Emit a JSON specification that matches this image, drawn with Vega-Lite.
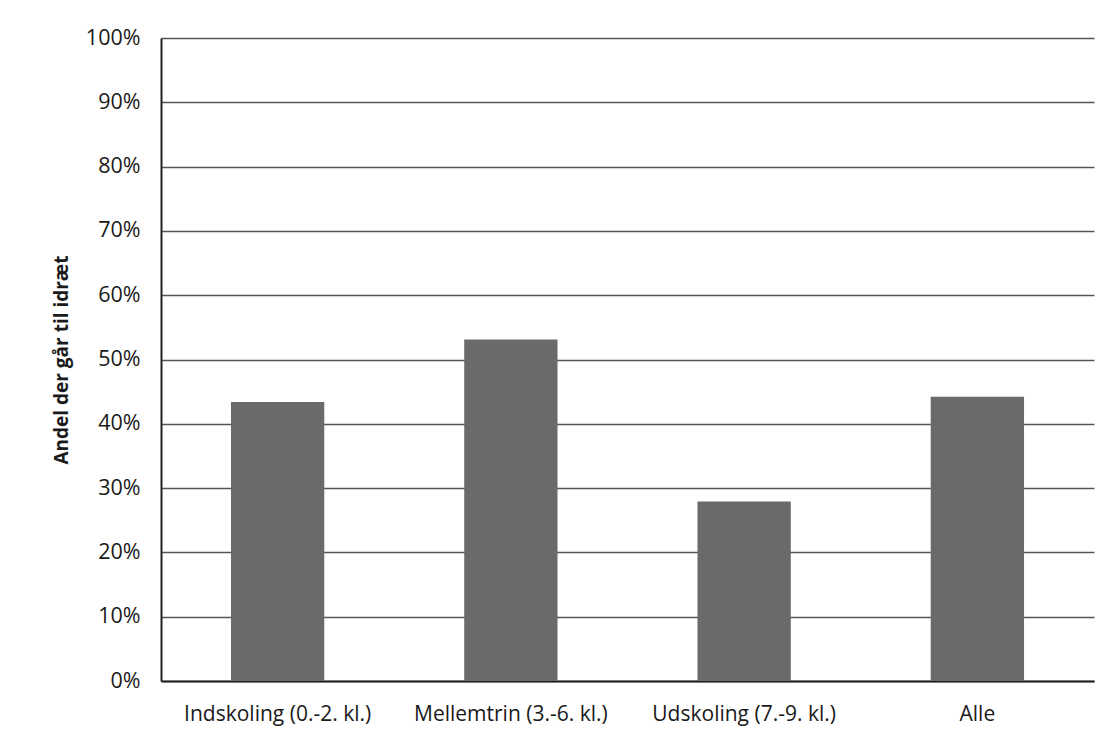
{
  "$schema": "https://vega.github.io/schema/vega-lite/v6.json",
  "width": 933,
  "height": 643,
  "autosize": "none",
  "padding": {"left": 161, "top": 38, "right": 16, "bottom": 58},
  "background": "white",
  "data": {
    "values": [
      {"gruppe": "Indskoling (0.-2. kl.)", "andel": 0.434},
      {"gruppe": "Mellemtrin (3.-6. kl.)", "andel": 0.531},
      {"gruppe": "Udskoling (7.-9. kl.)", "andel": 0.279},
      {"gruppe": "Alle", "andel": 0.442}
    ]
  },
  "mark": {"type": "bar", "color": "#6a6a6a"},
  "encoding": {
    "x": {
      "field": "gruppe",
      "type": "nominal",
      "sort": null,
      "scale": {"paddingInner": 0.6, "paddingOuter": 0.3},
      "axis": {
        "title": null,
        "labelAngle": 0,
        "labelFont": "Open Sans",
        "labelFontSize": 21,
        "labelColor": "#1a1a1a",
        "labelPadding": 22,
        "labelOverlap": false,
        "labelLimit": 0,
        "ticks": false,
        "domainColor": "#222",
        "domainWidth": 2,
        "grid": false
      }
    },
    "y": {
      "field": "andel",
      "type": "quantitative",
      "scale": {"domain": [0, 1]},
      "axis": {
        "title": "Andel der går til idræt",
        "titleFont": "Open Sans",
        "titleFontSize": 19,
        "titleFontWeight": "bold",
        "titleColor": "#1a1a1a",
        "titlePadding": 14,
        "format": ".0%",
        "values": [0, 0.1, 0.2, 0.3, 0.4, 0.5, 0.6, 0.7, 0.8, 0.9, 1],
        "labelOverlap": false,
        "labelFont": "Open Sans",
        "labelFontSize": 21.5,
        "labelColor": "#1a1a1a",
        "labelPadding": 21,
        "ticks": false,
        "domainColor": "#222",
        "domainWidth": 2,
        "gridColor": "#555",
        "gridWidth": 1.5
      }
    }
  },
  "config": {"view": {"stroke": null}}
}
